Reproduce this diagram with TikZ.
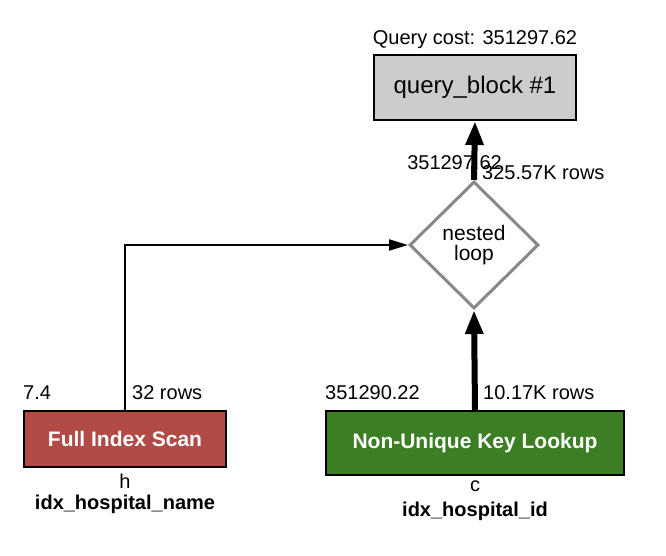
\documentclass[tikz,border=0pt]{standalone}
\usepackage{fontspec}
\setmainfont{Liberation Sans}
\usetikzlibrary{arrows.meta,shapes.geometric}
\definecolor{scanred}{HTML}{B24A47}
\definecolor{lookupgreen}{HTML}{3C7E24}
\definecolor{blockgray}{HTML}{CCCCCC}
\definecolor{loopgray}{HTML}{888888}

\begin{document}
\begin{tikzpicture}[x=1pt,y=-1pt]

\tikzstyle{opbox}=[draw=black, line width=2pt, inner sep=0pt, text=white, font=\fontsize{21}{24}\selectfont\bfseries]
\tikzstyle{lbl}=[inner sep=0pt, font=\fontsize{20}{24}\selectfont]
\tikzstyle{idxlbl}=[inner sep=0pt, font=\fontsize{20}{24}\selectfont\bfseries]
\tikzstyle{flow}=[line width=6pt, -{Triangle[width=17pt,length=24pt]}]
\tikzstyle{thinflow}=[line width=2pt, -{Triangle[width=11pt,length=19pt]}]

\useasboundingbox (0,0) rectangle (666,556);

% operators
\node[draw, line width=2pt, fill=blockgray, minimum width=202pt, minimum height=65pt, inner sep=0pt,
      font=\fontsize{24}{28}\selectfont] (block) at (475,87.5) {query\_block \#1};
\node[diamond, draw=loopgray, line width=3pt, minimum width=129pt, minimum height=127pt, inner sep=0pt,
      align=center, font=\fontsize{21}{20}\selectfont] (loop) at (474,245) {nested\\loop};
\node[opbox, fill=scanred, minimum width=202pt, minimum height=56pt] (scan) at (125,439) {Full Index Scan};
\node[opbox, fill=lookupgreen, minimum width=298pt, minimum height=64pt] (lookup) at (475,443) {Non-Unique Key Lookup};

% costs and rows
\node[lbl, anchor=base] (qcost) at (475,45) {Query cost: 351297.62};
\node[lbl, anchor=base east] (loopcost) at (502,170) {351297.62};
\node[lbl, anchor=base west] (looprows) at (482,180) {325.57K rows};
\node[lbl, anchor=base west] (scancost) at (23,399) {7.4};
\node[lbl, anchor=base west] (scanrows) at (132,399) {32 rows};
\node[lbl, anchor=base west] (lookupcost) at (325,399) {351290.22};
\node[lbl, anchor=base west] (lookuprows) at (483,399) {10.17K rows};

% tables and keys
\node[lbl, anchor=base] (scantab) at (125,488) {h};
\node[idxlbl, anchor=base] (scankey) at (125,509) {idx\_hospital\_name};
\node[lbl, anchor=base] (lookuptab) at (475,491) {c};
\node[idxlbl, anchor=base] (lookupkey) at (475,516) {idx\_hospital\_id};

% flows
\draw[thinflow] (scan.north) |- (loop.west);
\draw[flow] (lookup.north) -- (loop.south);
\draw[flow] (loop.north) -- (block.south);

\end{tikzpicture}
\end{document}
